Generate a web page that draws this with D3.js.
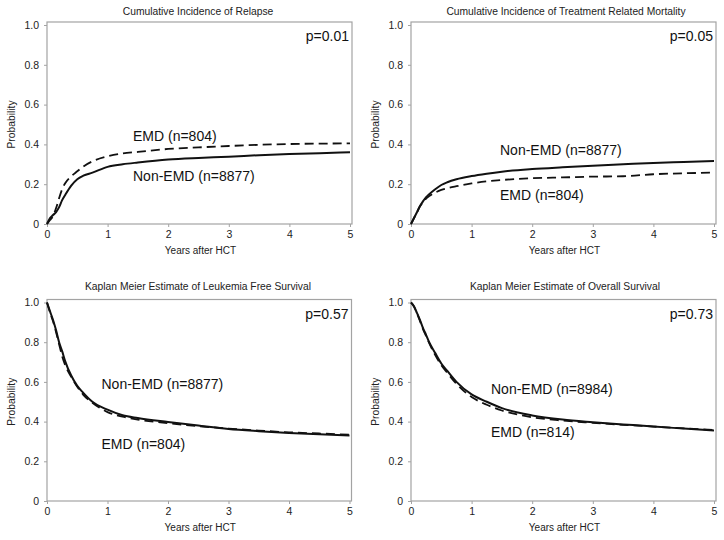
<!DOCTYPE html>
<html>
<head>
<meta charset="utf-8">
<script src="https://cdn.jsdelivr.net/npm/d3@7"></script>
<style>
  html, body { margin: 0; padding: 0; background: #fff; }
  svg { display: block; font-family: "Liberation Sans", Arial, sans-serif; }
</style>
</head>
<body>
<svg id="chart" width="724" height="540"></svg>
<script>
// ---- Data ----
const years = [0, 0.05, 0.1, 0.15, 0.2, 0.25, 0.3, 0.4, 0.5, 0.6, 0.75, 1, 1.25, 1.5, 2, 2.5, 3, 3.5, 4, 4.5, 5];

const relapseNonEMD = [0, 0.03, 0.045, 0.06, 0.085, 0.12, 0.146, 0.193, 0.225, 0.243, 0.258, 0.287, 0.3, 0.309, 0.324, 0.332, 0.338, 0.346, 0.352, 0.356, 0.36];
const relapseEMD    = [0, 0.02, 0.04, 0.08, 0.13, 0.175, 0.205, 0.24, 0.265, 0.289, 0.315, 0.34, 0.355, 0.362, 0.377, 0.385, 0.392, 0.398, 0.402, 0.404, 0.405];

const trmNonEMD = [0, 0.03, 0.06, 0.09, 0.115, 0.135, 0.15, 0.175, 0.196, 0.21, 0.225, 0.241, 0.253, 0.263, 0.276, 0.285, 0.293, 0.3, 0.307, 0.312, 0.317];
const trmEMD    = [0, 0.03, 0.06, 0.09, 0.11, 0.128, 0.14, 0.158, 0.171, 0.18, 0.19, 0.204, 0.214, 0.221, 0.23, 0.234, 0.238, 0.24, 0.25, 0.255, 0.258];

const lfsNonEMD = [1, 0.955, 0.912, 0.86, 0.8, 0.755, 0.705, 0.632, 0.58, 0.545, 0.5, 0.46, 0.432, 0.418, 0.398, 0.38, 0.363, 0.352, 0.343, 0.336, 0.33];
const lfsEMD    = [1, 0.95, 0.905, 0.85, 0.79, 0.73, 0.685, 0.625, 0.575, 0.535, 0.495, 0.448, 0.425, 0.41, 0.392, 0.377, 0.365, 0.355, 0.346, 0.34, 0.334];

const osNonEMD = [1, 0.98, 0.946, 0.91, 0.87, 0.836, 0.8, 0.745, 0.693, 0.655, 0.6, 0.537, 0.5, 0.468, 0.431, 0.41, 0.397, 0.386, 0.375, 0.365, 0.355];
const osEMD    = [1, 0.98, 0.945, 0.905, 0.865, 0.83, 0.795, 0.735, 0.684, 0.645, 0.59, 0.524, 0.485, 0.456, 0.422, 0.405, 0.394, 0.384, 0.375, 0.366, 0.358];

const xTicks = [0, 1, 2, 3, 4, 5];
const yTicks = [0, 0.2, 0.4, 0.6, 0.8, 1.0];
const yTickLabels = ["0", "0.2", "0.4", "0.6", "0.8", "1.0"];

const panelTitles = [
  "Cumulative Incidence of Relapse",
  "Cumulative Incidence of Treatment Related Mortality",
  "Kaplan Meier Estimate of Leukemia Free Survival",
  "Kaplan Meier Estimate of Overall Survival"
];
const pValues = ["p=0.01", "p=0.05", "p=0.57", "p=0.73"];
const nonEmdLabels = ["Non-EMD (n=8877)", "Non-EMD (n=8877)", "Non-EMD (n=8877)", "Non-EMD (n=8984)"];
const emdLabels = ["EMD (n=804)", "EMD (n=804)", "EMD (n=804)", "EMD (n=814)"];

// ---- Layout ----
const panels = [
  { left: 47, right: 350, top: 25, bottom: 224, solid: relapseNonEMD, dashed: relapseEMD,
    titleX: 198, titleY: 15, nonLab: [133, 181], emdLab: [133, 141], pY: 41 },
  { left: 411, right: 714, top: 25, bottom: 224, solid: trmNonEMD, dashed: trmEMD,
    titleX: 566, titleY: 15, nonLab: [500, 155], emdLab: [500, 200], pY: 41 },
  { left: 47, right: 349.5, top: 302.5, bottom: 501, solid: lfsNonEMD, dashed: lfsEMD,
    titleX: 198, titleY: 290, nonLab: [101.5, 389], emdLab: [101.5, 449], pY: 319 },
  { left: 411, right: 714, top: 302.5, bottom: 501, solid: osNonEMD, dashed: osEMD,
    titleX: 565, titleY: 290, nonLab: [491, 394], emdLab: [491, 437], pY: 319 }
];

const svg = d3.select("#chart");
const frameColor = "#a3a3a3";
const textColor = "#222";

panels.forEach((p, i) => {
  const x = d3.scaleLinear().domain([0, 5]).range([p.left, p.right]);
  const y = d3.scaleLinear().domain([0, 1]).range([p.bottom, p.top]);
  const g = svg.append("g");

  // frame
  g.append("rect")
    .attr("x", p.left).attr("y", p.top - 3)
    .attr("width", p.right - p.left + 2).attr("height", p.bottom - p.top + 3)
    .attr("fill", "none").attr("stroke", frameColor).attr("stroke-width", 1.2);

  // x axis
  const xAxis = g.append("g").attr("transform", `translate(0,${p.bottom})`)
    .call(d3.axisBottom(x).tickValues(xTicks).tickFormat(d3.format("d")).tickSize(3).tickPadding(4));
  xAxis.select(".domain").remove();
  xAxis.selectAll("line").attr("stroke", frameColor);
  xAxis.selectAll("text").attr("font-size", "10.5px").attr("fill", textColor)
    .attr("font-family", "'Liberation Sans', Arial, sans-serif");

  // y axis
  const yAxis = g.append("g").attr("transform", `translate(${p.left},0)`)
    .call(d3.axisLeft(y).tickValues(yTicks).tickFormat((d, k) => yTickLabels[k]).tickSize(3).tickPadding(5));
  yAxis.select(".domain").remove();
  yAxis.selectAll("line").attr("stroke", frameColor);
  yAxis.selectAll("text").attr("font-size", "10.5px").attr("fill", textColor)
    .attr("font-family", "'Liberation Sans', Arial, sans-serif");

  // axis titles
  g.append("text")
    .attr("x", (p.left + p.right) / 2 + 2).attr("y", p.bottom + 30)
    .attr("text-anchor", "middle").attr("font-size", "10px").attr("fill", textColor)
    .text("Years after HCT");
  g.append("text")
    .attr("transform", `translate(${p.left - 32},${(p.top + p.bottom) / 2}) rotate(-90)`)
    .attr("text-anchor", "middle").attr("font-size", "10.3px").attr("fill", textColor)
    .text("Probability");

  // panel title
  g.append("text")
    .attr("x", p.titleX).attr("y", p.titleY)
    .attr("text-anchor", "middle").attr("font-size", "10.3px").attr("fill", textColor)
    .text(panelTitles[i]);

  // curves
  const line = d3.line().x(d => x(d[0])).y(d => y(d[1])).curve(d3.curveMonotoneX);
  g.append("path")
    .datum(years.map((t, k) => [t, p.dashed[k]]))
    .attr("d", line).attr("fill", "none").attr("stroke", "#111")
    .attr("stroke-width", 1.8).attr("stroke-dasharray", "9,5");
  g.append("path")
    .datum(years.map((t, k) => [t, p.solid[k]]))
    .attr("d", line).attr("fill", "none").attr("stroke", "#111")
    .attr("stroke-width", 2);

  // annotations
  g.append("text")
    .attr("x", p.right - 1).attr("y", p.pY)
    .attr("text-anchor", "end").attr("font-size", "14px").attr("fill", "#111")
    .text(pValues[i]);
  g.append("text")
    .attr("x", p.nonLab[0]).attr("y", p.nonLab[1])
    .attr("font-size", "14px").attr("fill", "#111")
    .text(nonEmdLabels[i]);
  g.append("text")
    .attr("x", p.emdLab[0]).attr("y", p.emdLab[1])
    .attr("font-size", "14px").attr("fill", "#111")
    .text(emdLabels[i]);
});
</script>
</body>
</html>
